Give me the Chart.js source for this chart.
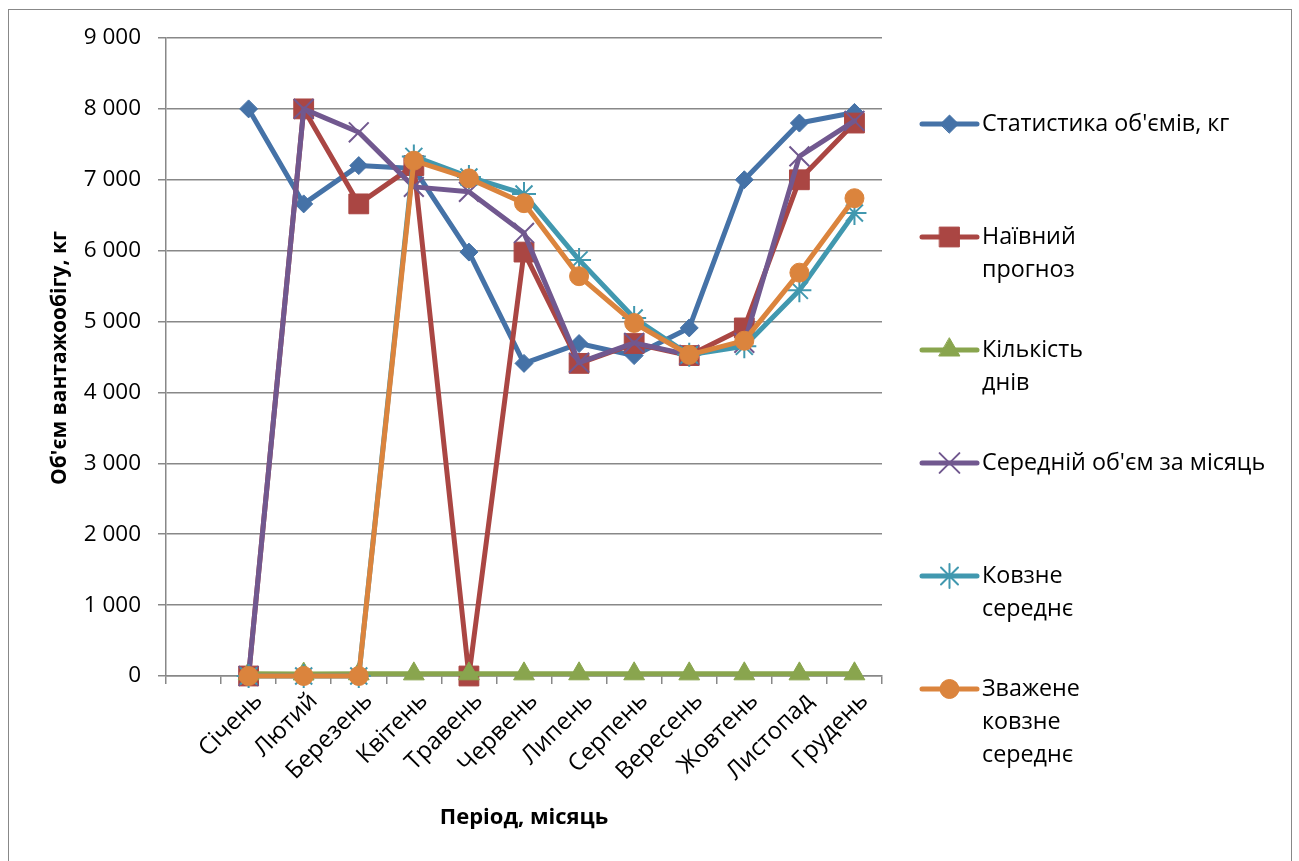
<!DOCTYPE html>
<html>
<head>
<meta charset="utf-8">
<script src="https://cdn.jsdelivr.net/npm/chart.js@4.4.1/dist/chart.umd.min.js"></script>
<style>
  html, body { margin: 0; padding: 0; background: #fff; }
  #wrap { position: relative; width: 1299px; height: 861px; overflow: hidden; }
  #wrap canvas { position: absolute; left: 0; top: 0; }
  #frame { position: absolute; left: 8px; top: 9px; width: 1284px; height: 900px;
           border: 1.5px solid #888; box-sizing: border-box; pointer-events: none; }
</style>
</head>
<body>
<div id="wrap">
  <canvas id="chart" width="1299" height="861"></canvas>
  <div id="frame"></div>
</div>
<script>
// Months (the first slot of the axis is left empty)
const months = ['', 'Січень', 'Лютий', 'Березень', 'Квітень', 'Травень', 'Червень',
                'Липень', 'Серпень', 'Вересень', 'Жовтень', 'Листопад', 'Грудень'];

// Series values, kg (null = empty first slot)
const actualVolume   = [null, 8000, 6660, 7200, 7160, 5980, 4410, 4690, 4520, 4910, 7000, 7800, 7950];
const naiveForecast  = [null, 0, 8000, 6660, 7200, 0, 5980, 4410, 4690, 4520, 4910, 7000, 7800];
const daysInMonth    = [null, 31, 28, 31, 30, 31, 30, 31, 31, 30, 31, 30, 31];
const monthlyAverage = [null, 0, 8000, 7670, 6900, 6830, 6250, 4420, 4700, 4530, 4700, 7330, 7830];
const movingAverage  = [null, 0, 0, 0, 7330, 7040, 6800, 5870, 5050, 4530, 4650, 5440, 6530];
const weightedMA     = [null, 0, 0, 0, 7270, 7020, 6670, 5640, 4980, 4530, 4730, 5690, 6740];

const seriesNames = ["Статистика об'ємів, кг", 'Наївний прогноз', 'Кількість днів',
                     "Середній об'єм за місяць", 'Ковзне середнє', 'Зважене ковзне середнє'];
// Legend text, line by line
const legendText = [["Статистика об'ємів, кг"], ['Наївний', 'прогноз'], ['Кількість', 'днів'],
                    ["Середній об'єм за місяць"], ['Ковзне', 'середнє'], ['Зважене', 'ковзне', 'середнє']];

const yTickLabels = ['0', '1 000', '2 000', '3 000', '4 000', '5 000', '6 000', '7 000', '8 000', '9 000'];
const yAxisTitle = "Об'єм вантажообігу, кг";
const xAxisTitle = 'Період, місяць';

const FONT = "'Open Sans', 'DejaVu Sans', sans-serif";
const GRID = '#888888';

const styles = [
  { color: '#4572A7', pointStyle: 'rectRot',  radius: 9,   bw: 1 },
  { color: '#AA4643', pointStyle: 'rect',     radius: 14,  bw: 1 },
  { color: '#89A54E', pointStyle: 'triangle', radius: 12,  bw: 1 },
  { color: '#71588F', pointStyle: 'crossRot', radius: 14,  bw: 2 },
  { color: '#4198AF', pointStyle: 'star',     radius: 12,  bw: 2 },
  { color: '#DB843D', pointStyle: 'circle',   radius: 9.5, bw: 1 }
];
const seriesData = [actualVolume, naiveForecast, daysInMonth, monthlyAverage, movingAverage, weightedMA];

const datasets = seriesData.map((d, i) => ({
  label: seriesNames[i],
  data: d,
  borderColor: styles[i].color,
  backgroundColor: styles[i].color,
  pointBackgroundColor: styles[i].color,
  pointBorderColor: styles[i].color,
  pointBorderWidth: styles[i].bw,
  pointStyle: styles[i].pointStyle,
  pointRadius: styles[i].radius,
  pointHoverRadius: styles[i].radius,
  borderWidth: 5,
  borderJoinStyle: 'round',
  borderCapStyle: 'round',
  tension: 0,
  fill: false,
  clip: false,
  order: seriesData.length - i
}));

// Vertical axis title, centred on the plot area's height
const yTitle = {
  id: 'yTitle',
  afterDraw(chart) {
    const { ctx, chartArea } = chart;
    ctx.save();
    ctx.translate(60, (chartArea.top + chartArea.bottom) / 2 + 1);
    ctx.rotate(-Math.PI / 2);
    ctx.fillStyle = '#000';
    ctx.font = `bold 21px ${FONT}`;
    ctx.textAlign = 'center';
    ctx.textBaseline = 'middle';
    ctx.fillText(yAxisTitle, 0, 0);
    ctx.restore();
  }
};

// Legend on the right, one entry per series with wrapped text
const sideLegend = {
  id: 'sideLegend',
  afterDraw(chart) {
    const ctx = chart.ctx;
    const x0 = 922, x1 = 977, tx = 982, top = 124, step = 113, lh = 33;
    ctx.save();
    chart.data.datasets.forEach((ds, i) => {
      const y = top + i * step;
      ctx.strokeStyle = ds.borderColor;
      ctx.lineWidth = 5;
      ctx.lineCap = 'round';
      ctx.beginPath();
      ctx.moveTo(x0, y);
      ctx.lineTo(x1, y);
      ctx.stroke();
      ctx.fillStyle = ds.pointBackgroundColor;
      ctx.strokeStyle = ds.pointBorderColor;
      ctx.lineWidth = ds.pointBorderWidth;
      Chart.helpers.drawPoint(ctx, {
        pointStyle: ds.pointStyle, radius: ds.pointRadius, rotation: 0, borderWidth: ds.pointBorderWidth
      }, (x0 + x1) / 2, y);
      ctx.fillStyle = '#000';
      ctx.font = `23.3px ${FONT}`;
      ctx.textBaseline = 'middle';
      ctx.textAlign = 'left';
      legendText[i].forEach((t, k) => ctx.fillText(t, tx, y + k * lh));
    });
    ctx.restore();
  }
};

new Chart(document.getElementById('chart'), {
  type: 'line',
  data: { labels: months, datasets },
  options: {
    responsive: false,
    animation: false,
    devicePixelRatio: 1,
    layout: { padding: { top: 38, right: 417, left: 0, bottom: 0 } },
    plugins: { legend: { display: false }, tooltip: { enabled: false } },
    scales: {
      x: {
        type: 'category',
        offset: true,
        afterFit(scale) { scale.height = 185; },
        grid: { offset: true, drawOnChartArea: false, drawTicks: true, tickLength: 8, color: GRID, lineWidth: 1.5 },
        border: { display: true, color: GRID, width: 1.5 },
        ticks: { autoSkip: false, minRotation: 45, maxRotation: 45, color: '#000', padding: 3,
                 labelOffset: 10, font: { family: FONT, size: 24 } },
        title: { display: true, text: xAxisTitle, color: '#000',
                 font: { family: FONT, size: 22, weight: 'bold' }, padding: { top: 0, bottom: 30 } }
      },
      y: {
        min: 0, max: 9000,
        afterFit(scale) { scale.width = 166; },
        grid: { drawTicks: true, tickLength: 8, color: GRID, lineWidth: 1.5 },
        border: { display: true, color: GRID, width: 1.5 },
        ticks: { stepSize: 1000, color: '#000', padding: 17,
                 font: { family: FONT, size: 22.5 },
                 callback: (v, i) => yTickLabels[i] },
        title: { display: false }
      }
    }
  },
  plugins: [sideLegend, yTitle]
});
</script>
</body>
</html>
